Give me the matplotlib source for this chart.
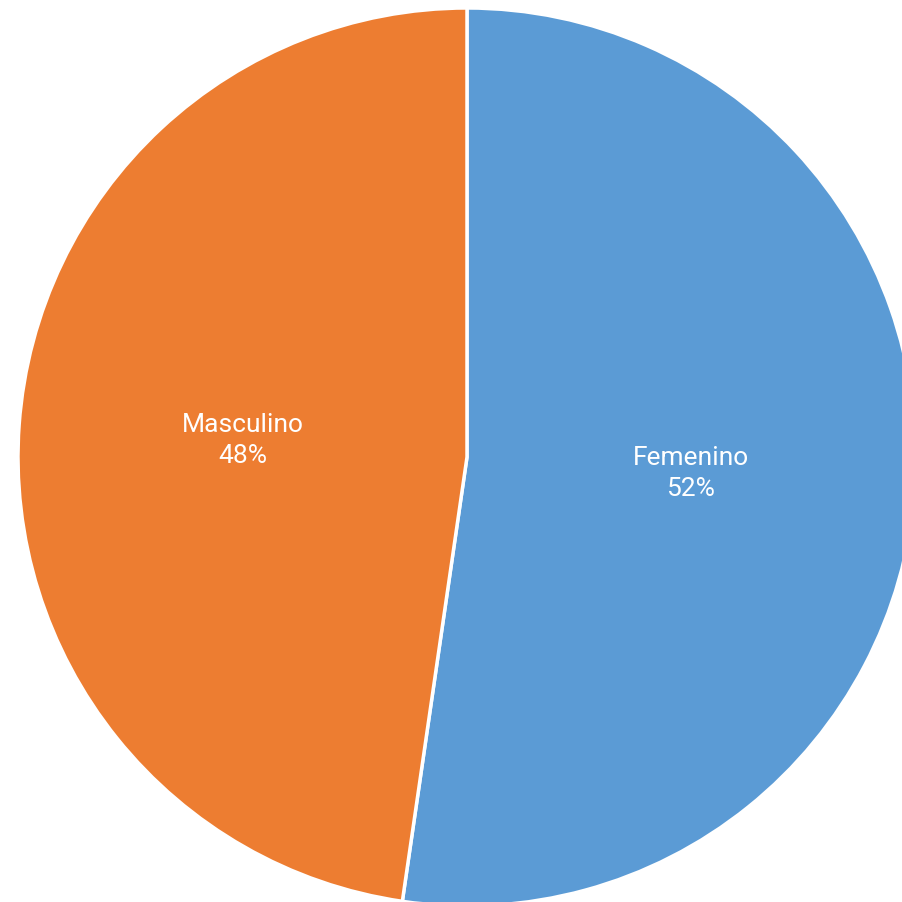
import matplotlib
matplotlib.use("Agg")
import matplotlib.pyplot as plt

labels = ["Femenino", "Masculino"]
values = [52.3, 47.7]
colors = ["#5B9BD5", "#ED7D31"]

plt.rcParams["font.family"] = ["Roboto", "DejaVu Sans"]

fig = plt.figure(figsize=(9.03, 9.02), dpi=100)
ax = fig.add_axes([0, 0, 1, 1])

wedges, texts = ax.pie(
    values,
    colors=colors,
    startangle=90,
    counterclock=False,
    labels=[f"{l}\n{round(v)}%" for l, v in zip(labels, values)],
    labeldistance=0.5,
    wedgeprops=dict(edgecolor="white", linewidth=2.5),
    textprops=dict(color="white", fontsize=19, ha="center", va="center",
                   linespacing=1.35),
)

# pie centre at (467, 457) px from top-left, radius 449 px
r = 449
ax.set_aspect("equal")
ax.set_xlim(-467 / r, 436 / r)
ax.set_ylim(-445 / r, 457 / r)
ax.axis("off")

fig.savefig("out.png", dpi=100)
